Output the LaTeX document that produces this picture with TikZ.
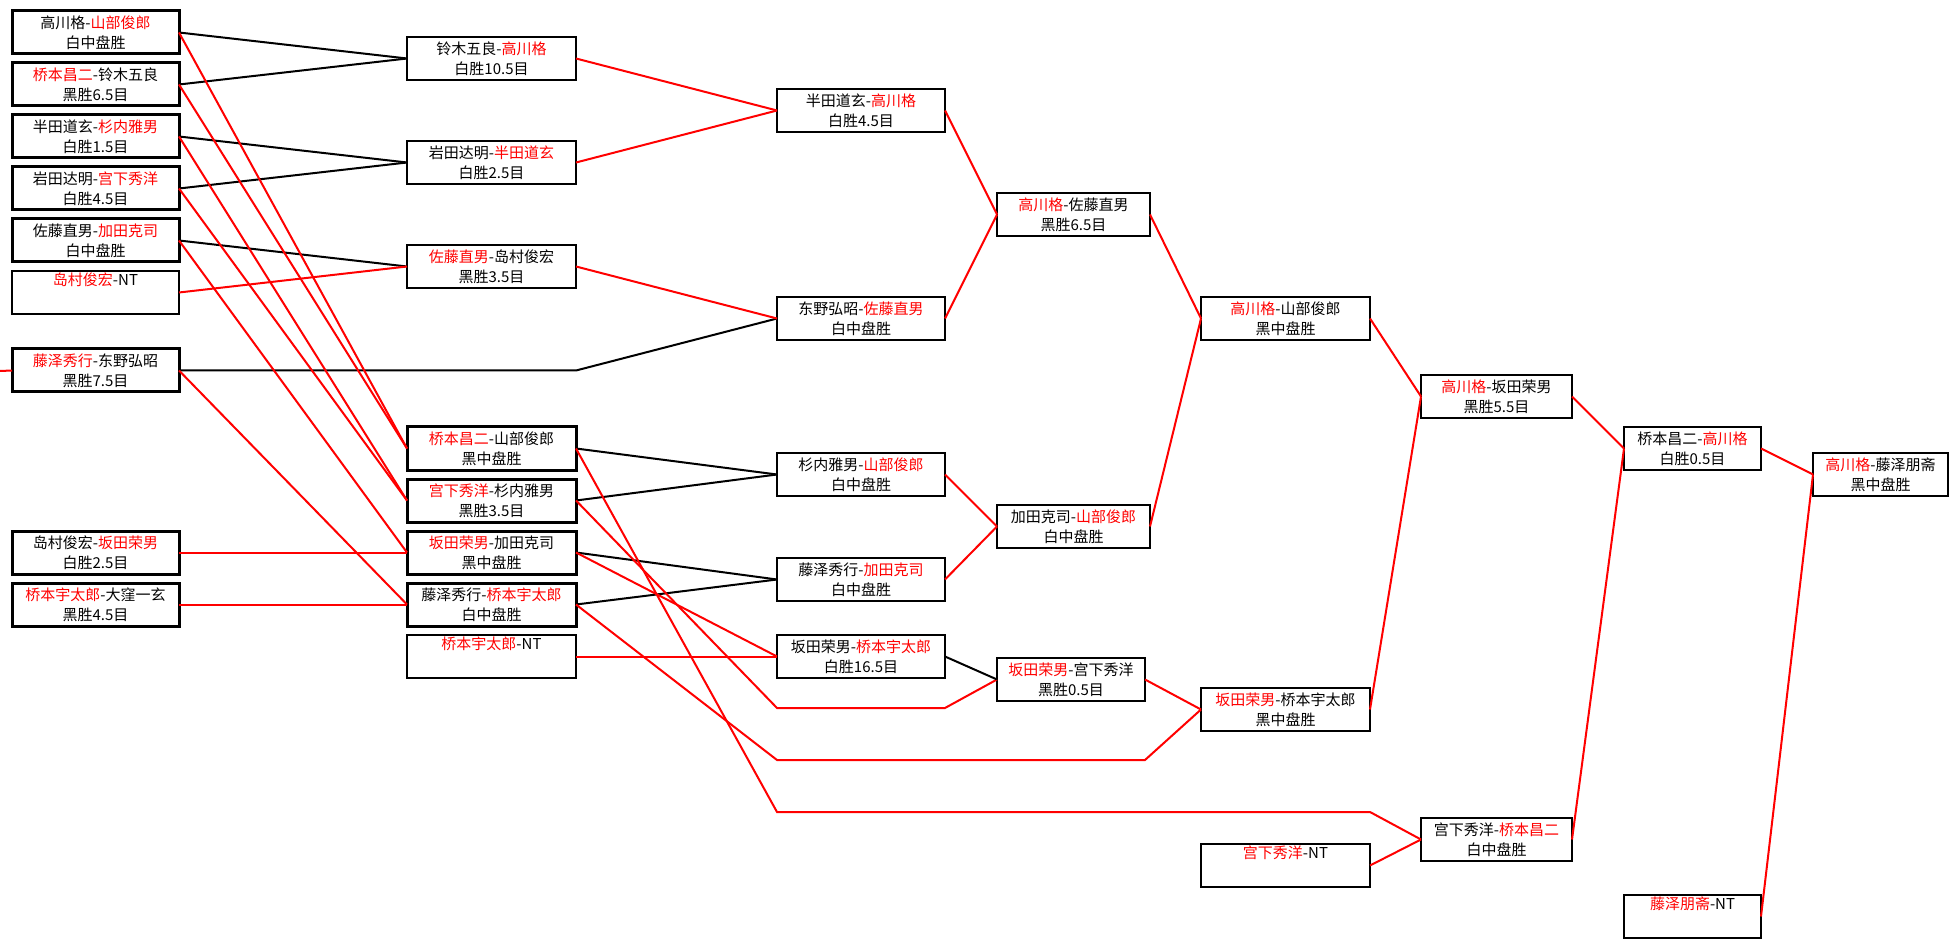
\documentclass[tikz,border=0pt]{standalone}
\usepackage{fontspec}
\setmainfont{Noto Sans CJK SC}
\usetikzlibrary{positioning}

\newcommand{\wn}[1]{\textcolor{red}{#1}}

\begin{document}
\begin{tikzpicture}[
			x=1pt, y=-1pt,
			nodes = {
				align = center,
				font = \fontsize{15}{20}\selectfont
			},
			game/.style={
				draw,
				fill=white,
				rectangle,
				line width=2pt,
				inner sep=0pt,
				outer sep=0pt,
				minimum height=43pt,
				anchor=north west
			},
			heavy/.style={
				game,
				line width=3pt
			},
			colA/.style={minimum width=167pt},
			colB/.style={minimum width=169pt},
			colC/.style={minimum width=168pt},
			colD/.style={minimum width=153pt},
			colE/.style={minimum width=169pt},
			colF/.style={minimum width=151pt},
			colG/.style={minimum width=137pt},
			colH/.style={minimum width=135pt},
			winner/.style={
				draw=red,
				line width=2pt
			},
			loser/.style={
				draw=black,
				line width=2pt
			}
		]
			\path[fill=white, use as bounding box] (0,0) rectangle (1960,949);

			% first round
			\node[heavy,colA] (a1) at (12,11) {高川格-\wn{山部俊郎}\\白中盘胜};
			\node[heavy,colA] (a2) [below=9pt of a1] {\wn{桥本昌二}-铃木五良\\黑胜6.5目};
			\node[heavy,colA] (a3) [below=9pt of a2] {半田道玄-\wn{杉内雅男}\\白胜1.5目};
			\node[heavy,colA] (a4) [below=9pt of a3] {岩田达明-\wn{宫下秀洋}\\白胜4.5目};
			\node[heavy,colA] (a5) [below=9pt of a4] {佐藤直男-\wn{加田克司}\\白中盘胜};
			\node[game,colA] (a6) [below=9pt of a5] {\wn{岛村俊宏}-NT\\\strut};
			\node[heavy,colA] (a7) at (12,349) {\wn{藤泽秀行}-东野弘昭\\黑胜7.5目};
			\node[heavy,colA] (a8) at (12,531) {岛村俊宏-\wn{坂田荣男}\\白胜2.5目};
			\node[heavy,colA] (a9) [below=9pt of a8] {\wn{桥本宇太郎}-大窪一玄\\黑胜4.5目};

			% second round
			\node[game,colB] (b1) at (407,37) {铃木五良-\wn{高川格}\\白胜10.5目};
			\node[game,colB] (b2) at (407,141) {岩田达明-\wn{半田道玄}\\白胜2.5目};
			\node[game,colB] (b3) at (407,245) {\wn{佐藤直男}-岛村俊宏\\黑胜3.5目};
			\node[heavy,colB] (b4) at (407,427) {\wn{桥本昌二}-山部俊郎\\黑中盘胜};
			\node[heavy,colB] (b5) [below=9pt of b4] {\wn{宫下秀洋}-杉内雅男\\黑胜3.5目};
			\node[heavy,colB] (b6) [below=9pt of b5] {\wn{坂田荣男}-加田克司\\黑中盘胜};
			\node[heavy,colB] (b7) [below=9pt of b6] {藤泽秀行-\wn{桥本宇太郎}\\白中盘胜};
			\node[game,colB] (b8) [below=9pt of b7] {\wn{桥本宇太郎}-NT\\\strut};

			% third round
			\node[game,colC] (c1) at (777,89) {半田道玄-\wn{高川格}\\白胜4.5目};
			\node[game,colC] (c2) at (777,297) {东野弘昭-\wn{佐藤直男}\\白中盘胜};
			\node[game,colC] (c3) at (777,453) {杉内雅男-\wn{山部俊郎}\\白中盘胜};
			\node[game,colC] (c4) at (777,558) {藤泽秀行-\wn{加田克司}\\白中盘胜};
			\node[game,colC] (c5) at (777,635) {坂田荣男-\wn{桥本宇太郎}\\白胜16.5目};

			% fourth round
			\node[game,colD] (d1) at (997,193) {\wn{高川格}-佐藤直男\\黑胜6.5目};
			\node[game,colD] (d2) at (997,505) {加田克司-\wn{山部俊郎}\\白中盘胜};
			\node[game,colD,minimum width=148pt] (d3) at (997,658) {\wn{坂田荣男}-宫下秀洋\\黑胜0.5目};

			% fifth round
			\node[game,colE] (e1) at (1201,297) {\wn{高川格}-山部俊郎\\黑中盘胜};
			\node[game,colE] (e2) at (1201,688) {\wn{坂田荣男}-桥本宇太郎\\黑中盘胜};
			\node[game,colE] (e3) at (1201,844) {\wn{宫下秀洋}-NT\\\strut};

			% sixth round
			\node[game,colF] (f1) at (1421,375) {\wn{高川格}-坂田荣男\\黑胜5.5目};
			\node[game,colF] (f2) at (1421,818) {宫下秀洋-\wn{桥本昌二}\\白中盘胜};

			% seventh round and final
			\node[game,colG] (g1) at (1624,427) {桥本昌二-\wn{高川格}\\白胜0.5目};
			\node[game,colG] (g2) at (1624,895) {\wn{藤泽朋斋}-NT\\\strut};
			\node[game,colH] (h1) at (1813,453) {\wn{高川格}-藤泽朋斋\\黑中盘胜};

			% bend points
			\coordinate (seed) at (0,371);
			\coordinate (via1) at (777,708);
			\coordinate (via2) at (777,760);
			\coordinate (via3) at (777,812);

			% first round to second
			\draw[winner] (seed) -- (a7.west);
			\draw[loser] (a1.east) -- (b1.west);
			\draw[loser] (a2.east) -- (b1.west);
			\draw[loser] (a3.east) -- (b2.west);
			\draw[loser] (a4.east) -- (b2.west);
			\draw[loser] (a5.east) -- (b3.west);
			\draw[winner] (a6.east) -- (b3.west);
			\draw[loser] (a7.east) -- (a7.east -| b1.east) -- (c2.west);
			\draw[winner] (a1.east) -- (b4.west);
			\draw[winner] (a2.east) -- (b4.west);
			\draw[winner] (a3.east) -- (b5.west);
			\draw[winner] (a4.east) -- (b5.west);
			\draw[winner] (a5.east) -- (b6.west);
			\draw[winner] (a7.east) -- (b7.west);
			\draw[winner] (a8.east) -- (b6.west);
			\draw[winner] (a9.east) -- (b7.west);

			% second round to third
			\draw[winner] (b1.east) -- (c1.west);
			\draw[winner] (b2.east) -- (c1.west);
			\draw[winner] (b3.east) -- (c2.west);
			\draw[loser] (b4.east) -- (c3.west);
			\draw[loser] (b5.east) -- (c3.west);
			\draw[loser] (b6.east) -- (c4.west);
			\draw[loser] (b7.east) -- (c4.west);
			\draw[winner] (b6.east) -- (c5.west);
			\draw[winner] (b8.east) -- (c5.west);
			\draw[winner] (b5.east) -- (via1) -- (via1 -| c5.east) -- (d3.west);
			\draw[winner] (b7.east) -- (via2) -- (via2 -| d3.east) -- (e2.west);
			\draw[winner] (b4.east) -- (via3) -- (via3 -| e3.east) -- (f2.west);

			% later rounds
			\draw[winner] (c1.east) -- (d1.west);
			\draw[winner] (c2.east) -- (d1.west);
			\draw[winner] (c3.east) -- (d2.west);
			\draw[winner] (c4.east) -- (d2.west);
			\draw[loser] (c5.east) -- (d3.west);
			\draw[winner] (d1.east) -- (e1.west);
			\draw[winner] (d2.east) -- (e1.west);
			\draw[winner] (d3.east) -- (e2.west);
			\draw[winner] (e1.east) -- (f1.west);
			\draw[winner] (e2.east) -- (f1.west);
			\draw[winner] (e3.east) -- (f2.west);
			\draw[winner] (f1.east) -- (g1.west);
			\draw[winner] (f2.east) -- (g1.west);
			\draw[winner] (g1.east) -- (h1.west);
			\draw[winner] (g2.east) -- (h1.west);
		\end{tikzpicture}
\end{document}
